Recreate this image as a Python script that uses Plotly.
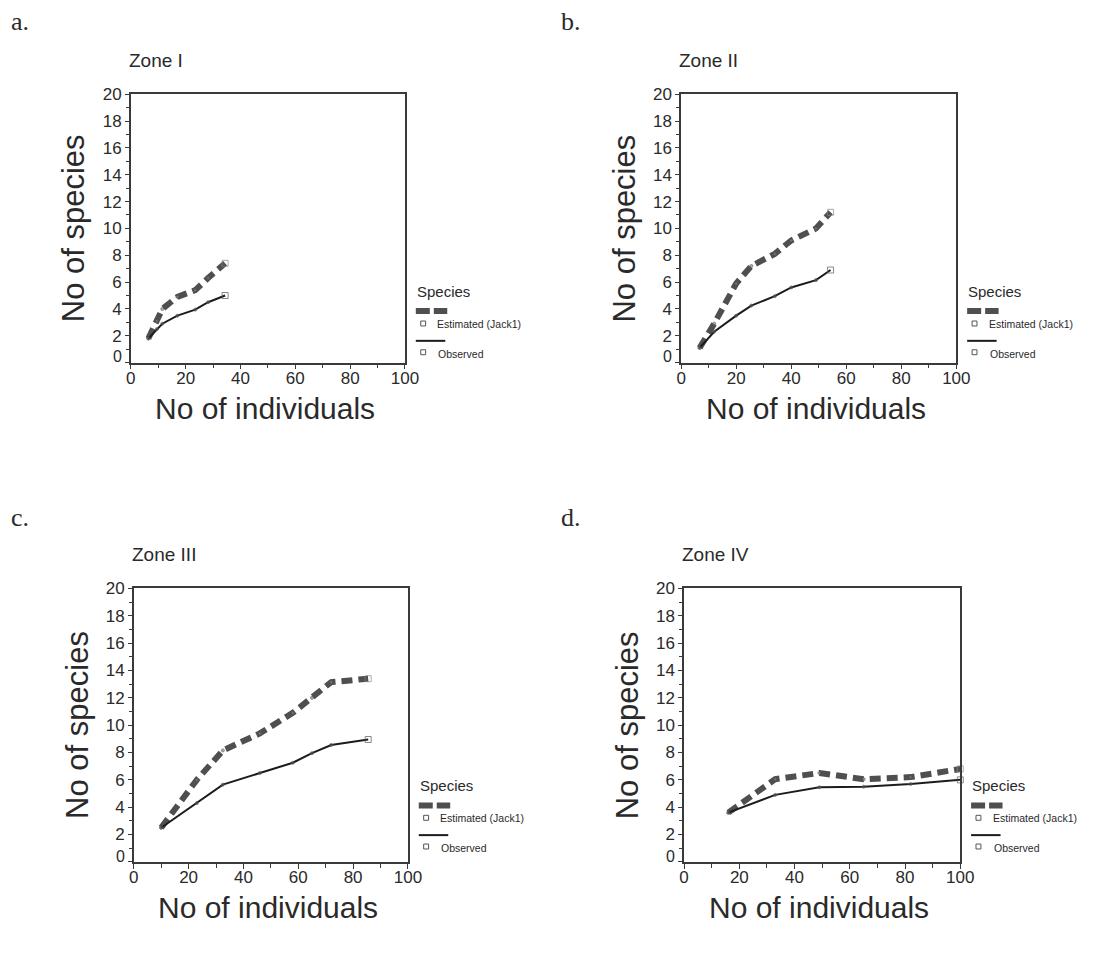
import plotly.graph_objects as go

W, H = 1104, 953

# Species accumulation by zone: number of individuals vs number of species
zone1_individuals = [6.4, 9.5, 11.5, 17, 23.5, 28.2, 34.4]
zone1_observed = [1.8, 2.5, 2.9, 3.5, 3.95, 4.5, 5.0]
zone1_jack1 = [1.8, 3.1, 4.0, 4.9, 5.4, 6.3, 7.4]

zone2_individuals = [6.7, 12, 20, 25.5, 34, 40, 49, 54.3]
zone2_observed = [1.1, 2.3, 3.5, 4.25, 4.95, 5.6, 6.15, 6.9]
zone2_jack1 = [1.1, 2.9, 5.9, 7.2, 8.1, 9.1, 10.0, 11.2]

zone3_individuals = [10, 23, 32.5, 46, 58, 65, 72, 85.5]
zone3_observed = [2.5, 4.3, 5.65, 6.5, 7.25, 7.95, 8.55, 8.95]
zone3_jack1 = [2.5, 6.0, 8.15, 9.4, 10.9, 12.0, 13.15, 13.4]

zone4_individuals = [16, 33, 49, 65, 82, 100]
zone4_observed = [3.6, 4.9, 5.45, 5.5, 5.7, 6.0]
zone4_jack1 = [3.6, 6.05, 6.5, 6.05, 6.2, 6.8]

zone_titles = ["Zone I", "Zone II", "Zone III", "Zone IV"]
panel_letters = ["a.", "b.", "c.", "d."]
x_ticks = [0, 20, 40, 60, 80, 100]
y_ticks = [0, 2, 4, 6, 8, 10, 12, 14, 16, 18, 20]

zones = [
    (zone1_individuals, zone1_observed, zone1_jack1),
    (zone2_individuals, zone2_observed, zone2_jack1),
    (zone3_individuals, zone3_observed, zone3_jack1),
    (zone4_individuals, zone4_observed, zone4_jack1),
]

# plot boxes in pixels: left, right, top, bottom
boxes = [
    (128, 407, 86, 357),
    (688, 968, 86, 357),
    (131, 410, 585, 861),
    (691, 972, 585, 861),
]
letter_pos = [(4, 13), (564, 13), (4, 513), (564, 513)]


def px(x):
    return x / W


def py(y):
    return 1 - y / H


TEXT = "#2a2a2a"
AXIS = "#3a3a3a"
EST_COLOR = "#4f4f4f"
OBS_COLOR = "#1c1c1c"
SANS = "Liberation Sans, Arial, sans-serif"
SERIF = "Liberation Serif, Times New Roman, serif"

fig = go.Figure()
annotations = []
shapes = []
layout_axes = {}


def end_symbols(n):
    return ["circle"] * (n - 1) + ["square-open"]


def end_sizes(n):
    return [3] * (n - 1) + [6]


for i, ((xs, obs, est), (l, r, t, b)) in enumerate(zip(zones, boxes)):
    k = "" if i == 0 else str(i + 1)
    xa, ya = "x" + k, "y" + k
    fig.add_trace(go.Scatter(
        x=xs, y=est, xaxis=xa, yaxis=ya, mode="lines+markers",
        line=dict(color=EST_COLOR, width=6, dash="11px,6px"),
        marker=dict(symbol=end_symbols(len(xs)), size=end_sizes(len(xs)),
                    color="#888888", line=dict(color="#555555", width=1)),
        cliponaxis=False, showlegend=False, name="Estimated (Jack1)"))
    fig.add_trace(go.Scatter(
        x=xs, y=obs, xaxis=xa, yaxis=ya, mode="lines+markers",
        line=dict(color=OBS_COLOR, width=2),
        marker=dict(symbol=end_symbols(len(xs)), size=end_sizes(len(xs)),
                    color="#555555", line=dict(color="#555555", width=1)),
        cliponaxis=False, showlegend=False, name="Observed"))

    layout_axes["xaxis" + k] = dict(
        domain=[px(l), px(r)], anchor=ya, range=[0, 100],
        tickvals=x_ticks, ticks="outside", ticklen=5, tickwidth=1.3, tickcolor=AXIS,
        minor=dict(dtick=10, ticks="outside", ticklen=4, tickwidth=1.2, tickcolor=AXIS),
        ticklabelstandoff=-6,
        showline=True, linecolor=AXIS, linewidth=1.5, mirror=True,
        showgrid=False, zeroline=False,
        tickfont=dict(family=SANS, size=17, color=TEXT))
    layout_axes["yaxis" + k] = dict(
        domain=[py(b), py(t)], anchor=xa, range=[0, 20],
        tickvals=y_ticks, ticktext=[""] + [str(v) for v in y_ticks[1:]],
        ticks="outside", ticklen=4, tickwidth=1.3, tickcolor=AXIS,
        minor=dict(dtick=1, ticks="outside", ticklen=3, tickwidth=1.1, tickcolor=AXIS),
        showline=True, linecolor=AXIS, linewidth=1.5, mirror=True,
        showgrid=False, zeroline=False,
        tickfont=dict(family=SANS, size=17, color=TEXT))

    # zero label sits just above the bottom axis line
    annotations.append(dict(x=px(l - 7), y=0.42, xref="paper", yref=ya, text="0",
                            showarrow=False, xanchor="right", yanchor="middle",
                            font=dict(family=SANS, size=16, color=TEXT)))
    # zone title
    annotations.append(dict(x=px(l - 4), y=py(t - 34), xref="paper", yref="paper",
                            text=zone_titles[i], showarrow=False, xanchor="left",
                            yanchor="middle", font=dict(family=SANS, size=19, color=TEXT)))
    # panel letter
    lx, ly = letter_pos[i]
    annotations.append(dict(x=px(lx), y=py(ly), xref="paper", yref="paper",
                            text=panel_letters[i], showarrow=False, xanchor="left",
                            yanchor="middle", font=dict(family=SERIF, size=26, color=TEXT)))
    # axis titles
    annotations.append(dict(x=px(l - 58), y=py((t + b) / 2), xref="paper", yref="paper",
                            text="No of species", textangle=-90, showarrow=False,
                            xanchor="center", yanchor="middle",
                            font=dict(family=SANS, size=31, color=TEXT)))
    annotations.append(dict(x=px((l + r) / 2 - 3), y=py(b + 46), xref="paper", yref="paper",
                            text="No of individuals", showarrow=False,
                            xanchor="center", yanchor="middle",
                            font=dict(family=SANS, size=30, color=TEXT)))

    # legend block to the right of each panel
    gx, gy = r + 11, t + 204
    annotations.append(dict(x=px(gx - 1), y=py(gy - 5), xref="paper", yref="paper", text="Species",
                            showarrow=False, xanchor="left", yanchor="middle",
                            font=dict(family=SANS, size=15, color=TEXT)))
    shapes.append(dict(type="line", xref="paper", yref="paper",
                       x0=px(gx), x1=px(gx + 32), y0=py(gy + 15), y1=py(gy + 15),
                       line=dict(color=EST_COLOR, width=6, dash="14px,4px")))
    shapes.append(dict(type="rect", xref="paper", yref="paper",
                       x0=px(gx + 5), x1=px(gx + 10), y0=py(gy + 25), y1=py(gy + 30),
                       line=dict(color="#555555", width=1), fillcolor="white"))
    annotations.append(dict(x=px(gx + 20), y=py(gy + 28), xref="paper", yref="paper",
                            text="Estimated (Jack1)", showarrow=False, xanchor="left",
                            yanchor="middle", font=dict(family=SANS, size=10.5, color=TEXT)))
    shapes.append(dict(type="line", xref="paper", yref="paper",
                       x0=px(gx), x1=px(gx + 30), y0=py(gy + 45), y1=py(gy + 45),
                       line=dict(color=OBS_COLOR, width=2)))
    shapes.append(dict(type="rect", xref="paper", yref="paper",
                       x0=px(gx + 5), x1=px(gx + 10), y0=py(gy + 54), y1=py(gy + 59),
                       line=dict(color="#555555", width=1), fillcolor="white"))
    annotations.append(dict(x=px(gx + 21), y=py(gy + 58), xref="paper", yref="paper",
                            text="Observed", showarrow=False, xanchor="left",
                            yanchor="middle", font=dict(family=SANS, size=10.5, color=TEXT)))

fig.update_layout(
    width=W, height=H, margin=dict(l=0, r=0, t=0, b=0),
    paper_bgcolor="white", plot_bgcolor="white",
    showlegend=False, annotations=annotations, shapes=shapes,
    **layout_axes)

fig.write_html("out.html")
